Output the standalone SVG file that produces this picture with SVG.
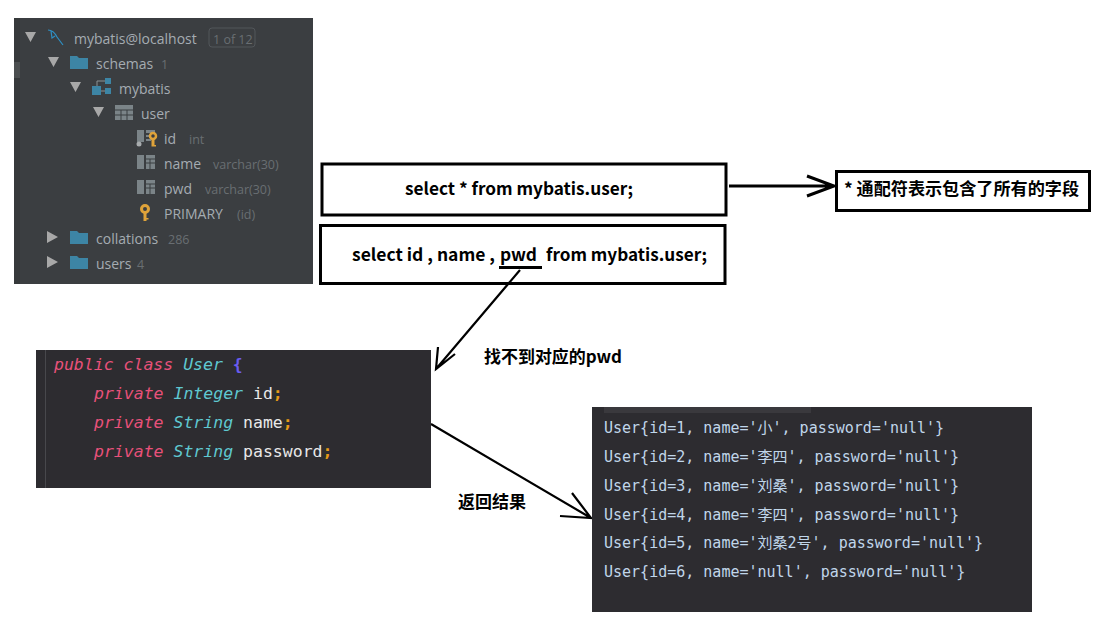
<svg xmlns="http://www.w3.org/2000/svg" width="1112" height="637" viewBox="0 0 1112 637">
<style>
.t{font:14px "Open Sans",sans-serif;fill:#a5acb2}
.d{font:12.5px "Open Sans",sans-serif;fill:#696e72}
.box{fill:#fff;stroke:#000;stroke-width:3}
.b{font:bold 17px "Noto Sans CJK SC","Noto Sans",sans-serif;fill:#000}
.c{font:16.5px "DejaVu Sans Mono",monospace;fill:#e8e8e8}
.i{font-style:italic}
.k{fill:#e8517a}.y{fill:#5fc8d0}.s{fill:#e59a16}
.o{font:15px "DejaVu Sans Mono","Noto Sans CJK SC",monospace;fill:#c0d6ea}
.tri{fill:#a8a8a8}.fold{fill:#3d85a5}.grid{fill:#7b8488}.key{fill:#dfa33a}
.l{fill:none;stroke:#000;stroke-width:2.200}
.l3{fill:none;stroke:#000;stroke-width:3}
</style>
<rect width="1112" height="637" fill="#fff"/>
<g id="tree">
<rect x="14" y="18" width="299" height="266" fill="#3b3e41"/>
<rect x="14" y="18" width="6" height="266" fill="#36393b"/>
<rect x="14" y="62" width="6" height="16" fill="#4b4e50"/>
<path class="tri" d="M25 32h11l-5.500 10zM48 57h11l-5.500 10zM70 82h11l-5.500 10zM93 107h11l-5.500 10zM47 231v12l11-6zM47 256v12l11-6z"/>
<path d="M48 30c5 0 7 3 9 7l3 4 3 4M51 31l1 7 3-2" fill="none" stroke="#2e8fc4" stroke-width="1.200"/>
<text class="t" x="74" y="44">mybatis@localhost</text>
<rect x="209" y="28" width="46" height="19" rx="3" fill="none" stroke="#52565a"/>
<text class="d" x="213" y="44" font-size="13">1 of 12</text>
<path class="fold" d="M70 56h7l2 2h9v11H70zM70 231h7l2 2h9v11H70zM70 256h7l2 2h9v11H70z"/>
<text class="t" x="96" y="69">schemas</text><text class="d" x="161" y="69">1</text>
<path class="fold" d="M92 86h9v9h-9zM105 78h6v6h-6zM105 88h6v6h-6z"/><path d="M97 86v-5h8M101 91h4" stroke="#8a9296" fill="none"/>
<text class="t" x="119" y="94">mybatis</text>
<rect class="grid" x="115" y="105" width="18" height="15"/>
<path d="M115 110h18M115 115h18M121 110v10M127 110v10" stroke="#3b3e41"/>
<text class="t" x="141" y="119">user</text>
<path class="grid" d="M137 130h7v12h-7zM146 130h9v3h-9zM146 135h5v2h-5zM146 139h5v2h-5z"/>
<circle cx="139" cy="144" r="2.500" fill="#a8acae"/>
<circle cx="153" cy="136" r="3" fill="none" stroke="#dfa33a" stroke-width="2.500"/>
<path class="key" d="M151.500 139h3v6h1.500v1.500h-4.500z"/>
<text class="t" x="164" y="144">id</text><text class="d" x="189" y="144">int</text>
<path class="grid" d="M137 155h7v14h-7zM146 155h9v14h-9z"/><path d="M146 159h9M146 163h9M150 159v10" stroke="#3b3e41"/>
<text class="t" x="164" y="169">name</text><text class="d" x="213" y="169">varchar(30)</text>
<path class="grid" d="M137 180h7v14h-7zM146 180h9v14h-9z"/><path d="M146 184h9M146 188h9M150 184v10" stroke="#3b3e41"/>
<text class="t" x="164" y="194">pwd</text><text class="d" x="205" y="194">varchar(30)</text>
<circle cx="145" cy="209" r="3.500" fill="none" stroke="#dfa33a" stroke-width="3"/>
<path class="key" d="M143.500 212h3v6h2v1.500h-2v1.500h-3z"/>
<text class="t" x="164" y="219">PRIMARY</text><text class="d" x="237" y="219">(id)</text>
<text class="t" x="96" y="244">collations</text><text class="d" x="168" y="244">286</text>
<text class="t" x="96" y="269">users</text><text class="d" x="137" y="269">4</text>
</g>
<g id="query-all">
<rect class="box" x="322" y="164" width="404" height="51"/>
<text class="b" x="405" y="195" textLength="228" lengthAdjust="spacingAndGlyphs">select * from mybatis.user;</text>
</g>
<g id="query-columns">
<rect class="box" x="320.500" y="225.500" width="404.500" height="58"/>
<text class="b" x="352" y="261" textLength="143" lengthAdjust="spacingAndGlyphs">select id , name ,</text>
<text class="b" x="500" y="261" textLength="37" lengthAdjust="spacingAndGlyphs">pwd</text>
<text class="b" x="546" y="261" textLength="161" lengthAdjust="spacingAndGlyphs">from mybatis.user;</text>
</g>
<g id="wildcard-note">
<rect class="box" x="836.500" y="171.500" width="253" height="39"/>
<text class="b" x="844" y="195" textLength="235" lengthAdjust="spacingAndGlyphs">* 通配符表示包含了所有的字段</text>
</g>
<g id="connectors">
<path class="l3" d="M729 186H834M807 176l27 10-27 10"/>
<path class="l3" d="M499 267.500H542"/>
<path class="l" d="M520 270L436 369M438 347l-2 22 19-15"/>
<path class="l" d="M431 424L591 518M560 516l31 2-19-25"/>
</g>
<text class="b" x="484" y="363" textLength="138" lengthAdjust="spacingAndGlyphs">找不到对应的pwd</text>
<text class="b" x="458" y="508" textLength="68" lengthAdjust="spacingAndGlyphs">返回结果</text>
<g id="user-class">
<rect x="36" y="350" width="395" height="138" fill="#2d2c30"/>
<path d="M45.500 350v138" stroke="#48484c"/>
<text class="c" x="54" y="370"><tspan class="k i">public class</tspan> <tspan class="y i">User</tspan> <tspan fill="#6a5cf0" font-weight="bold">{</tspan></text>
<text class="c" x="94" y="399"><tspan class="k i">private</tspan> <tspan class="y i">Integer</tspan> id<tspan class="s" font-weight="bold">;</tspan></text>
<text class="c" x="94" y="428"><tspan class="k i">private</tspan> <tspan class="y i">String</tspan> name<tspan class="s" font-weight="bold">;</tspan></text>
<text class="c" x="94" y="457"><tspan class="k i">private</tspan> <tspan class="y i">String</tspan> password<tspan class="s" font-weight="bold">;</tspan></text>
</g>
<g id="result">
<rect x="592" y="407" width="440" height="205" fill="#2d2c30"/>
<rect x="604" y="407" width="207" height="6" fill="#3a393d"/>
<text class="o" x="604" y="433">User{id=1, name='小', password='null'}</text>
<text class="o" x="604" y="462">User{id=2, name='李四', password='null'}</text>
<text class="o" x="604" y="491">User{id=3, name='刘桑', password='null'}</text>
<text class="o" x="604" y="520">User{id=4, name='李四', password='null'}</text>
<text class="o" x="604" y="548">User{id=5, name='刘桑2号', password='null'}</text>
<text class="o" x="604" y="577">User{id=6, name='null', password='null'}</text>
</g>
</svg>
